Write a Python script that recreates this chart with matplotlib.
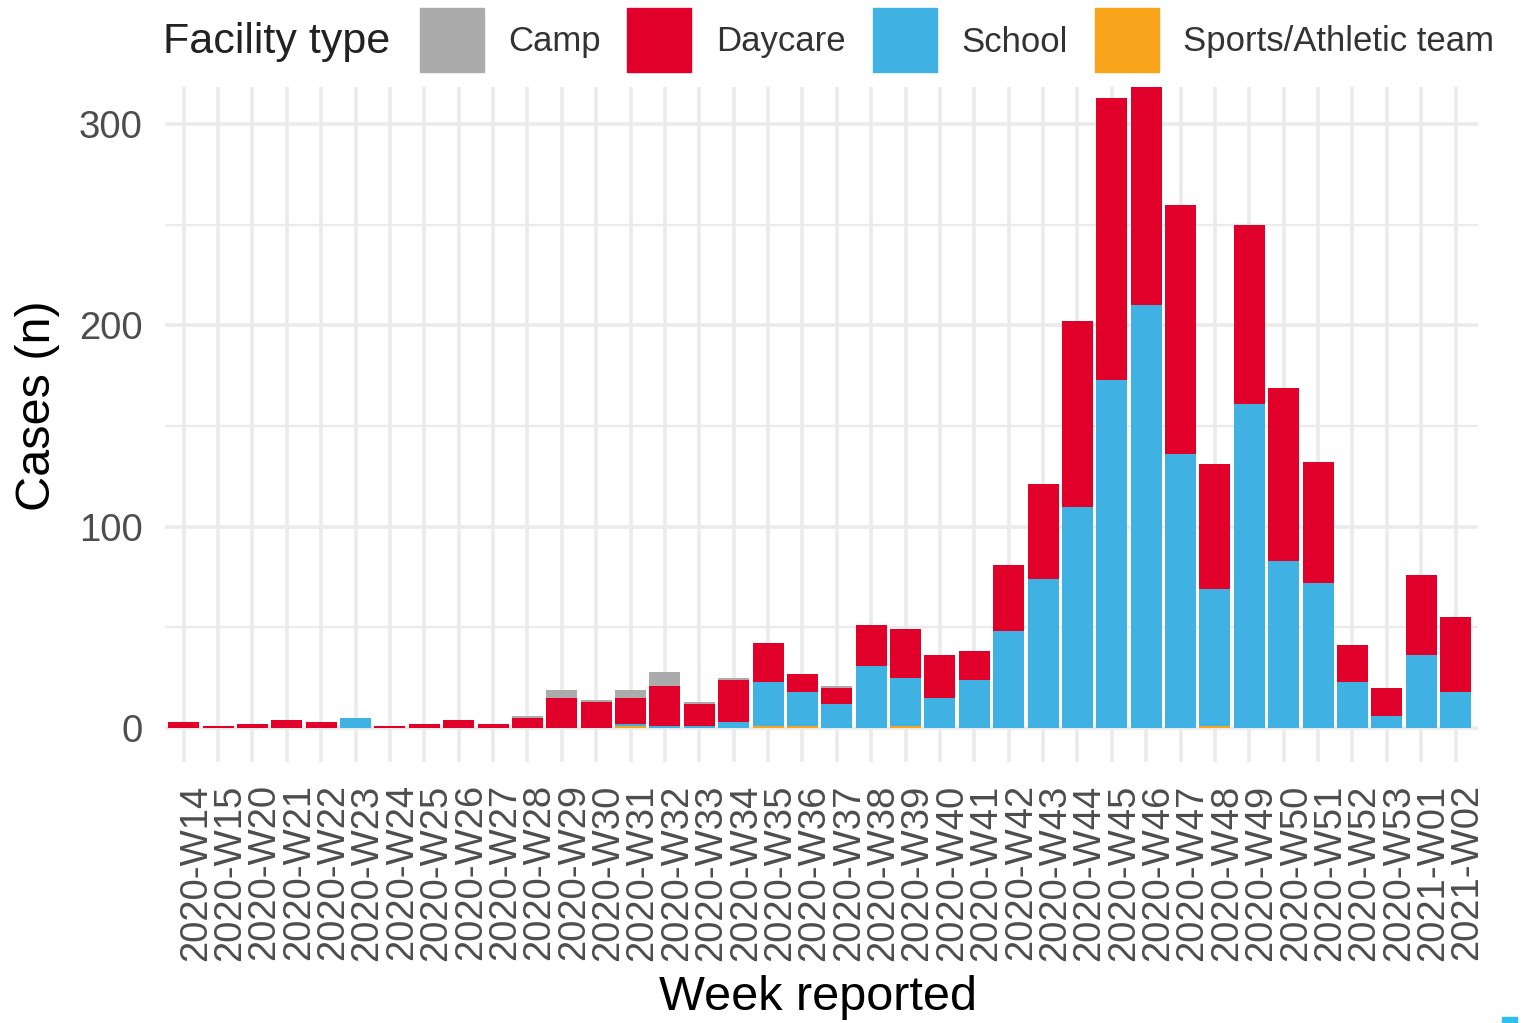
"""Weekly cases by facility type, stacked bar chart."""

import numpy as np
import matplotlib.pyplot as plt
from matplotlib.patches import Rectangle
from matplotlib.transforms import ScaledTranslation

weeks = (["2020-W14", "2020-W15"]
         + [f"2020-W{w}" for w in range(20, 54)]
         + ["2021-W01", "2021-W02"])

# values, one per week
sports = [0, 0, 0, 0, 0, 0, 0, 0, 0, 0, 0, 0, 0, 1, 0, 0, 0, 1, 1, 0,
          0, 1, 0, 0, 0, 0, 0, 0, 0, 0, 1, 0, 0, 0, 0, 0, 0, 0]
school = [0, 0, 0, 0, 0, 5, 0, 0, 0, 0, 0, 0, 0, 1, 1, 1, 3, 22, 17, 12,
          31, 24, 15, 24, 48, 74, 110, 173, 210, 136, 68, 161, 83, 72, 23, 6, 36, 18]
daycare = [3, 1, 2, 4, 3, 0, 1, 2, 4, 2, 5, 15, 13, 13, 20, 11, 21, 19, 9, 8,
           20, 24, 21, 14, 33, 47, 92, 140, 110, 124, 62, 89, 86, 60, 18, 14, 40, 37]
camp = [0, 0, 0, 0, 0, 0, 0, 0, 0, 0, 1, 4, 1, 4, 7, 1, 1, 0, 0, 1,
        0, 0, 0, 0, 0, 0, 0, 0, 0, 0, 0, 0, 0, 0, 0, 0, 0, 0]

facility_types = ["Camp", "Daycare", "School", "Sports/Athletic team"]
colors = {"Camp": "#ABABAB", "Daycare": "#E0002A",
          "School": "#3FB1E2", "Sports/Athletic team": "#F8A51C"}

plt.rcParams["font.family"] = ["Liberation Sans", "DejaVu Sans"]

W, H = 1526.0, 1023.0
fig = plt.figure(figsize=(15.26, 10.23), dpi=100)
ax = fig.add_axes([0.108, 0.255, 0.8605, 0.66])

x = np.arange(len(weeks))
bottom = np.zeros(len(weeks))
# stack from bottom: sports, school, daycare, camp
for name, vals in [("Sports/Athletic team", sports), ("School", school),
                   ("Daycare", daycare), ("Camp", camp)]:
    vals = np.array(vals, dtype=float)
    ax.bar(x, vals, bottom=bottom, width=0.9, color=colors[name],
           linewidth=0, zorder=3)
    bottom += vals

ax.set_xlim(-0.55, len(weeks) - 0.35)
ax.set_ylim(-17, 318.5)
ax.set_yticks([0, 100, 200, 300])
ax.set_yticks([50, 150, 250], minor=True)
ax.set_xticks(x)
ax.set_xticklabels(weeks, rotation=90)

ax.grid(which="major", axis="both", color="#EBEBEB", linewidth=2.6, zorder=0)
ax.grid(which="minor", axis="y", color="#EBEBEB", linewidth=1.6, zorder=0)
for s in ax.spines.values():
    s.set_visible(False)
ax.tick_params(which="both", length=0)
ax.tick_params(axis="x", labelsize=27.5, colors="#4D4D4D", pad=16)
ax.tick_params(axis="y", labelsize=27.5, colors="#4D4D4D", pad=16)

# x tick labels sit a little right of the bar centres in the reference
shift = ScaledTranslation(12 / 100, 0, fig.dpi_scale_trans)
for lbl in ax.get_xticklabels():
    lbl.set_transform(lbl.get_transform() + shift)

ax.set_xlabel("Week reported", fontsize=35, va="center")
ax.xaxis.set_label_coords(818 / W, 1 - 998 / H, transform=fig.transFigure)
ax.set_ylabel("Cases (n)", fontsize=35, va="center")
ax.yaxis.set_label_coords(38 / W, 1 - 406 / H, transform=fig.transFigure)

# legend across the top, drawn by hand in figure coordinates
fig.text(163 / W, 1 - 42 / H, "Facility type", fontsize=31, va="center",
         ha="left", color="#222222")
key_x = [420, 627, 873, 1095]
label_x = [508, 716, 961, 1183]
for name, kx, lx in zip(facility_types, key_x, label_x):
    fig.add_artist(Rectangle((kx / W, 1 - 72 / H), 64 / W, 64 / H,
                             transform=fig.transFigure, color=colors[name]))
    fig.text(lx / W, 1 - 42 / H, name, fontsize=25, va="center", ha="left",
             color="#333333")

# small blue mark in the bottom-right corner of the reference image
fig.add_artist(Rectangle((1502 / W, 0), 15 / W, 6 / H,
                         transform=fig.transFigure, color="#29C0F0"))

fig.savefig("out.png", dpi=100)
plt.close(fig)
